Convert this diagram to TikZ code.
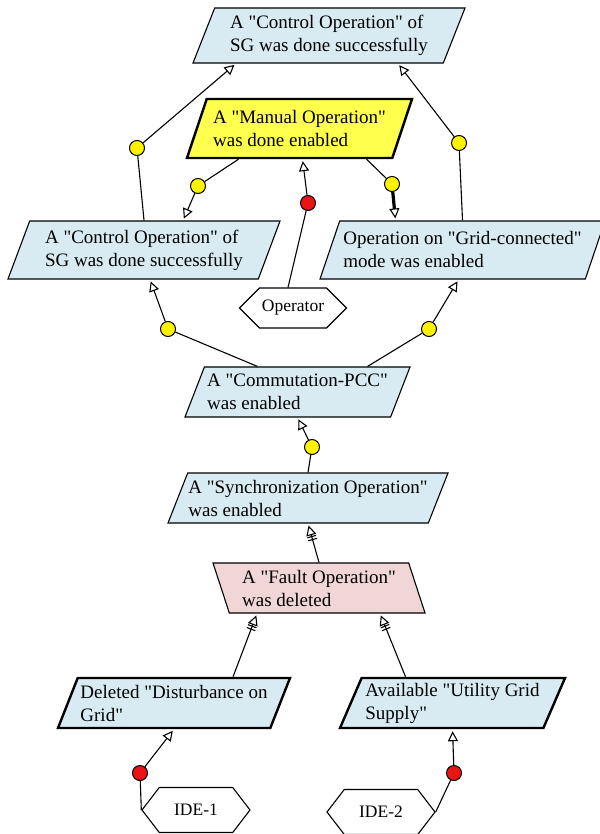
\documentclass[tikz,border=0pt]{standalone}
\usepackage{fontspec}
\setmainfont{Liberation Serif}
\usepackage{tikz}
\usetikzlibrary{shapes.geometric}
\usetikzlibrary{shapes.symbols}
\usetikzlibrary{arrows.meta}
\definecolor{goalblue}{RGB}{217,235,242}
\definecolor{goalpink}{RGB}{240,214,214}
\definecolor{goalyellow}{RGB}{255,255,77}
\definecolor{dotyellow}{RGB}{255,242,0}
\definecolor{dotred}{RGB}{235,20,20}
\newcommand{\qt}[1]{\textquotedbl#1\textquotedbl}
\tikzset{
    common/.style={draw, trapezium, trapezium left angle=64, trapezium right angle=116,
        trapezium stretches body, align=left, inner xsep=0pt, inner ysep=2pt,
        line width=1.1pt, font=\fontsize{19}{23}\selectfont},
    goal/.style={common, fill=goalblue},
    boldgoal/.style={goal, line width=2.4pt},
    softgoal/.style={common, fill=goalpink, trapezium left angle=112, trapezium right angle=68},
    agent/.style={draw, signal, signal to=east and west, inner sep=0pt,
        line width=1.1pt, font=\fontsize{17.5}{21}\selectfont},
    junction/.style={draw, circle, inner sep=0pt, minimum size=15pt, line width=1pt, fill=dotyellow},
    conflict/.style={junction, fill=dotred},
    link/.style={line width=1.1pt},
    contrib/.style={link, shorten >=2pt, -{Triangle[open, length=10pt, width=10pt, line width=1.1pt]}},
    depend/.style={link, shorten >=2pt, -{Bar[width=9pt, sep=2pt]Bar[width=9pt, sep=1pt]Triangle[open, length=10pt, width=10pt]}}
}

\begin{document}
\begin{tikzpicture}[x=1pt, y=-1pt]
    \useasboundingbox (0,0) rectangle (599,834);

    % goals
    \node[goal, minimum width=272pt, minimum height=55pt] (topgoal) at (329,35.5)
        {A \qt{Control Operation} of\\SG was done successfully};
    \node[boldgoal, fill=goalyellow, minimum width=225pt, minimum height=59pt] (manual) at (299.5,128.5)
        {A \qt{Manual Operation}\\was done enabled};
    \node[goal, minimum width=272pt, minimum height=58pt] (ctrlleft) at (144,250)
        {A \qt{Control Operation} of\\SG was done successfully};
    \node[goal, minimum width=285pt, minimum height=58pt] (gridconn) at (462.5,250)
        {Operation on \qt{Grid-connected}\\mode was enabled};
    \node[goal, minimum width=225pt, minimum height=50pt] (commut) at (297.5,392)
        {A \qt{Commutation-PCC}\\was enabled};
    \node[goal, minimum width=280pt, minimum height=50pt] (sync) at (308,498)
        {A \qt{Synchronization Operation}\\was enabled};
    \node[softgoal, minimum width=212pt, minimum height=50pt] (fault) at (319,588)
        {A \qt{Fault Operation}\\was deleted};
    \node[boldgoal, minimum width=232pt, minimum height=50pt] (disturb) at (174,703)
        {Deleted \textquotedbl Disturbance on\\Grid\textquotedbl};
    \node[boldgoal, minimum width=225pt, minimum height=50pt] (utility) at (452.5,703)
        {Available \textquotedbl Utility Grid\\Supply\textquotedbl};

    % actors
    \node[agent, minimum width=107pt, minimum height=40pt, signal pointer angle=90] (operator) at (293,308) {Operator};
    \node[agent, minimum width=108pt, minimum height=45pt, signal pointer angle=105] (ide1) at (196,810) {IDE-1};
    \node[agent, minimum width=108pt, minimum height=45pt, signal pointer angle=105] (ide2) at (381,812) {IDE-2};

    % junctions
    \node[junction] (d1) at (137,148) {};
    \node[junction] (d2) at (198,186) {};
    \node[junction] (d3) at (392,184) {};
    \node[junction] (d4) at (459,143) {};
    \node[junction] (d5) at (168,329) {};
    \node[junction] (d6) at (429,329) {};
    \node[junction] (d7) at (312,447) {};
    \node[conflict] (r1) at (308,203) {};
    \node[conflict] (r2) at (140,773) {};
    \node[conflict] (r3) at (454,773) {};

    % top goal
    \draw[link] (ctrlleft.north) -- (d1);
    \draw[contrib] (d1) -- ([xshift=-93pt]topgoal.south);
    \draw[link] (gridconn.north) -- (d4);
    \draw[contrib] (d4) -- ([xshift=69pt]topgoal.south);

    % manual operation
    \draw[link] ([xshift=-61pt]manual.south) -- (d2);
    \draw[contrib] (d2) -- ([xshift=39pt]ctrlleft.north);
    \draw[link] ([xshift=67pt]manual.south) -- (d3);
    \draw[contrib, line width=3.2pt] (d3) -- ([xshift=-67pt]gridconn.north);
    \draw[link] ([xshift=-5pt]operator.north) -- (r1);
    \draw[contrib] (r1) -- ([xshift=3pt]manual.south);

    % commutation
    \draw[link] ([xshift=-40pt]commut.north) -- (d5);
    \draw[contrib] (d5) -- ([xshift=6pt]ctrlleft.south);
    \draw[link] ([xshift=70pt]commut.north) -- (d6);
    \draw[contrib] (d6) -- ([xshift=-4pt]gridconn.south);
    \draw[link] (sync.north) -- (d7);
    \draw[contrib] (d7) -- (commut.south);

    % dependencies
    \draw[depend] (fault.north) -- (sync.south);
    \draw[depend] ([xshift=59pt]disturb.north) -- ([xshift=-62pt]fault.south);
    \draw[depend] ([xshift=-47pt]utility.north) -- ([xshift=61pt]fault.south);

    % resources
    \draw[link] (ide1.west) -- (r2);
    \draw[contrib] (r2) -- (disturb.south);
    \draw[link] (ide2.east) -- (r3);
    \draw[contrib] (r3) -- (utility.south);
\end{tikzpicture}
\end{document}
